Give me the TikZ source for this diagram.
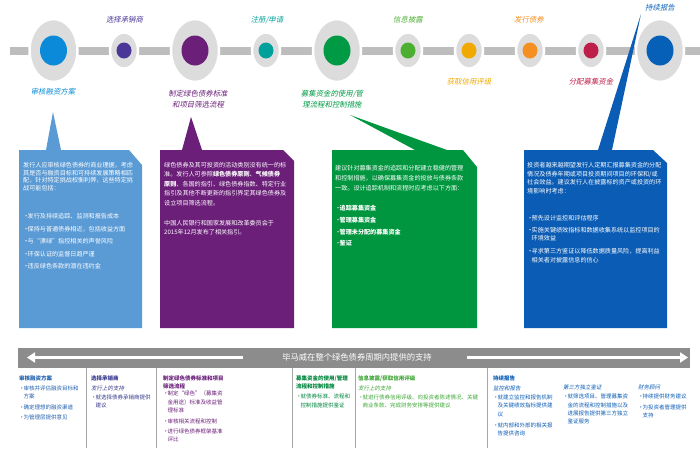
\documentclass[tikz,border=0pt]{standalone}
\usepackage{fontspec}
\setmainfont{Noto Sans CJK SC}
\newfontfamily\cjkslant{Noto Sans CJK SC}[FakeSlant=0.2]
\usetikzlibrary{arrows.meta}

% colours of the ten stages
\definecolor{ringgray}{HTML}{DCDCDC}
\definecolor{bargray}{HTML}{BDBDBD}
\definecolor{bandgray}{HTML}{8C8C8C}
\definecolor{sepgray}{HTML}{A6A6A6}
\definecolor{stBlue}{HTML}{0A8AD8}
\definecolor{stIndigo}{HTML}{4B3797}
\definecolor{stPurple}{HTML}{6B1F79}
\definecolor{stTeal}{HTML}{00A19B}
\definecolor{stGreen}{HTML}{009A44}
\definecolor{stLime}{HTML}{4CAF32}
\definecolor{stGold}{HTML}{EFA900}
\definecolor{stOrange}{HTML}{F58F21}
\definecolor{stCrimson}{HTML}{BD1E4A}
\definecolor{stNavy}{HTML}{0760B8}
\definecolor{boxBlue}{HTML}{5B9BD5}
\definecolor{boxGreen}{HTML}{00963F}
\definecolor{boxNavy}{HTML}{0B5CB4}
\definecolor{colBlue}{HTML}{1F5FAE}
\definecolor{colIndigo}{HTML}{35378C}
\definecolor{colGreen}{HTML}{00843D}
\definecolor{colLime}{HTML}{3DA535}

% bullet and hanging indent for the small texts
\newcommand{\bitem}{\makebox[4.5pt][l]{•}}
\newcommand{\bcont}{\hspace*{4.5pt}}
\newcommand{\subhead}[1]{{\cjkslant #1}}

\begin{document}
\begin{tikzpicture}[x=1pt, y=-1pt, line join=round,
    ring/.style={fill=ringgray, draw=white, line width=2.5pt},
    toplabel/.style={font=\cjkslant\fontsize{7.4}{12}\selectfont, align=center, inner sep=0pt},
    boxtext/.style={text=white, anchor=north west, align=left, inner sep=0pt},
    coltext/.style={anchor=north west, align=left, inner sep=0pt, font=\fontsize{5.5}{8.2}\selectfont},
    colsep/.style={draw=sepgray, line width=0.7pt},
    bandarrow/.style={draw=white, line width=2.8pt, -{Triangle[width=10pt, length=8pt]}}]
        \useasboundingbox (0,0) rectangle (700,450);

        % ---------------------------------------------------
        % 上方时间线：灰色横条与十个圆点
        % ---------------------------------------------------
        \def\bigrx{24}
        \def\bigry{31.5}
        \def\smallrx{14}
        \def\smallry{18}

        \coordinate (s1) at (53.5,50.5);
        \coordinate (s2) at (124,50.5);
        \coordinate (s3) at (195,50.5);
        \coordinate (s4) at (266,50.5);
        \coordinate (s5) at (337,50.5);
        \coordinate (s6) at (408,50.5);
        \coordinate (s7) at (469,50.5);
        \coordinate (s8) at (530,50.5);
        \coordinate (s9) at (591,50.5);
        \coordinate (s10) at (660,50.5);

        \fill[bargray] (10,46.5) rectangle (700,54.5);

        % 外圈（白边把横条断开）
        \filldraw[ring] (s1) ellipse [x radius=\bigrx, y radius=\bigry];
        \filldraw[ring] (s2) ellipse [x radius=\smallrx, y radius=\smallry];
        \filldraw[ring] (s3) ellipse [x radius=\bigrx, y radius=\bigry];
        \filldraw[ring] (s4) ellipse [x radius=\smallrx, y radius=\smallry];
        \filldraw[ring] (s5) ellipse [x radius=\bigrx, y radius=\bigry];
        \filldraw[ring] (s6) ellipse [x radius=\smallrx, y radius=\smallry];
        \filldraw[ring] (s7) ellipse [x radius=\smallrx, y radius=\smallry];
        \filldraw[ring] (s8) ellipse [x radius=\smallrx, y radius=\smallry];
        \filldraw[ring] (s9) ellipse [x radius=\smallrx, y radius=\smallry];
        \filldraw[ring] (s10) ellipse [x radius=\bigrx, y radius=\bigry];

        % 内圆
        \fill[stBlue] (s1) ellipse [x radius=13.5, y radius=15];
        \fill[stIndigo] (s2) ellipse [x radius=7.5, y radius=8];
        \fill[stPurple] (s3) ellipse [x radius=13.5, y radius=15];
        \fill[stTeal] (s4) ellipse [x radius=7.5, y radius=8];
        \fill[stGreen] (s5) ellipse [x radius=13.5, y radius=15];
        \fill[stLime] (s6) ellipse [x radius=7.5, y radius=8];
        \fill[stGold] (s7) ellipse [x radius=7.5, y radius=8];
        \fill[stOrange] (s8) ellipse [x radius=7.5, y radius=8];
        \fill[stCrimson] (s9) ellipse [x radius=7.5, y radius=8];
        \fill[stNavy] (s10) ellipse [x radius=13.5, y radius=15];

        % 阶段名称
        \node[toplabel, text=stBlue] (l1) at (53,92) {审核融资方案};
        \node[toplabel, text=stIndigo] (l2) at (124.5,20) {选择承销商};
        \node[toplabel, text=stPurple, font=\cjkslant\fontsize{7.4}{11.5}\selectfont] (l3) at (198,99) {制定绿色债券标准\\和项目筛选流程};
        \node[toplabel, text=stTeal] (l4) at (267,20) {注册/申请};
        \node[toplabel, text=stGreen, font=\cjkslant\fontsize{7.4}{11.5}\selectfont] (l5) at (332,99) {募集资金的使用/管\\理流程和控制措施};
        \node[toplabel, text=stLime] (l6) at (408,20) {信息披露};
        \node[toplabel, text=stGold] (l7) at (469,82) {获取信用评级};
        \node[toplabel, text=stOrange] (l8) at (529,20) {发行债券};
        \node[toplabel, text=stCrimson] (l9) at (591,82) {分配募集资金};
        \node[toplabel, text=stNavy] (l10) at (660,8) {持续报告};

        % ---------------------------------------------------
        % 四个说明框（带指针，右上角切角）
        % ---------------------------------------------------
        \fill[boxBlue] (19,150) -- (46,150) -- (53,112) -- (61,150) -- (129,150)
            -- (142,165) -- (142,328) -- (19,328) -- cycle;
        \fill[stPurple] (160,150) -- (182,150) -- (191,117) -- (202,150) -- (283,150)
            -- (294,161) -- (294,328) -- (160,328) -- cycle;
        \fill[boxGreen] (332,150) -- (415,150) -- (350,115) -- (447,150) -- (463,150)
            -- (477,167) -- (477,328) -- (332,328) -- cycle;
        \fill[boxNavy] (524,150) -- (598,150) -- (641,14) -- (612,150) -- (653,150)
            -- (667,163) -- (667,328) -- (524,328) -- cycle;

        \node[boxtext, font=\fontsize{6.1}{7.8}\selectfont] (t1) at (23,162) {%
            发行人应审核绿色债券的商业理据，考虑\\
            其是否与融资目标和可持续发展策略相匹\\
            配，针对特定挑战权衡利弊，这些特定挑\\
            战可能包括：\\[20pt]
            \bitem 发行及持续追踪、监测和报告成本\\[4.7pt]
            \bitem 保持与普通债券相近，包括收益方面\\[4.7pt]
            \bitem 与“漂绿”指控相关的声誉风险\\[4.7pt]
            \bitem 环保认证的监督日趋严谨\\[4.7pt]
            \bitem 违反绿色条款的潜在违约金};

        \node[boxtext, font=\fontsize{6.1}{9.5}\selectfont] (t2) at (164,162) {%
            绿色债券及其可投资的活动类别没有统一的标\\
            准。发行人可参照{\bfseries 绿色债券原则}、{\bfseries 气候债券}\\
            {\bfseries 原则}、各国的指引、绿色债券指数、特定行业\\
            指引及其他不断更新的指引界定其绿色债券及\\
            设立项目筛选流程。\\[10.5pt]
            中国人民银行和国家发展和改革委员会于\\
            2015年12月发布了相关指引。};

        \node[boxtext, font=\fontsize{6.1}{10}\selectfont] (t3) at (335,165.3) {%
            建议针对募集资金的追踪和分配建立稳健的管理\\
            和控制措施，以确保募集资金的投放与债券条款\\
            一致。设计追踪机制和流程时应考虑以下方面：\\[10pt]
            \bitem {\bfseries 追踪募集资金}\\[1.7pt]
            \bitem {\bfseries 管理募集资金}\\[1.7pt]
            \bitem {\bfseries 管理未分配的募集资金}\\[1.7pt]
            \bitem {\bfseries 鉴证}};

        \node[boxtext, font=\fontsize{6.1}{8.7}\selectfont] (t4) at (527,162) {%
            投资者越来越期望发行人定期汇报募集资金的分配\\
            情况及债券年期或项目投资期间项目的环保和/或\\
            社会效益。建议发行人在披露标的资产或投资的环\\
            境影响时考虑：\\[18pt]
            \bitem 预先设计监控和评估程序\\[3.3pt]
            \bitem 实施关键绩效指标和数据收集系统以监控项目的\\
            \bcont 环境效益\\[4.3pt]
            \bitem 寻求第三方鉴证以降低数据质量风险，提高利益\\
            \bcont 相关者对披露信息的信心};

        % ---------------------------------------------------
        % 下方灰色横带与双向箭头
        % ---------------------------------------------------
        \fill[bandgray] (18,348) rectangle (690,368);
        \node[text=white, font=\fontsize{8.3}{10}\selectfont, inner sep=0pt] (band) at (357,357.5)
            {毕马威在整个绿色债券周期内提供的支持};
        \coordinate (leftend) at (27,357.5);
        \coordinate (rightend) at (688,357.5);
        \draw[bandarrow] ([xshift=-39pt]band.west) -- (leftend);
        \draw[bandarrow] ([xshift=35pt]band.east) -- (rightend);

        % 分栏竖线
        \draw[colsep] (86,368) -- (86,448);
        \draw[colsep] (156,368) -- (156,448);
        \draw[colsep] (292,368) -- (292,448);
        \draw[colsep] (355,368) -- (355,448);
        \draw[colsep] (487,368) -- (487,448);

        % 各栏文字
        \node[coltext, text=colBlue] (c1) at (19,375.5) {%
            {\bfseries 审核融资方案}\\[1.8pt]
            \bitem 审核并评估融资目标和\\
            \bcont 方案\\[2.8pt]
            \bitem 确定理想的融资渠道\\[2pt]
            \bitem 为管理层提供意见};

        \node[coltext, text=colIndigo] (c2) at (91,375.5) {%
            {\bfseries 选择承销商}\\[1.8pt]
            \subhead{发行上的支持}\\[1pt]
            \bitem 就选择债券承销商提供\\
            \bcont 建议};

        \node[coltext, text=stPurple] (c3) at (163,375.5) {%
            {\bfseries 制定绿色债券标准和项目}\\
            {\bfseries 筛选流程}\\[-1pt]
            \bitem 制定“绿色”（募集资\\
            \bcont 金用途）标准及收益管\\
            \bcont 理标准\\[3.5pt]
            \bitem 审核相关流程和控制\\[1pt]
            \bitem 进行绿色债券框架基准\\
            \bcont 评比};

        \node[coltext, text=colGreen] (c4) at (296,375.5) {%
            {\bfseries 募集资金的使用/管理}\\
            {\bfseries 流程和控制措施}\\[2pt]
            \bitem 就债券标准、流程和\\
            \bcont 控制措施提供鉴证};

        \node[coltext, text=colLime] (c5) at (358,375.5) {%
            {\bfseries 信息披露/获取信用评级}\\[1.8pt]
            \subhead{发行上的支持}\\[1pt]
            \bitem 就进行债券信用评级、向投资者陈述情况、关键\\
            \bcont 商业条款、完成财务安排等提供建议};

        \node[coltext, text=boxNavy] (c6) at (493,375.5) {%
            {\bfseries 持续报告}\\[1.8pt]
            \subhead{监控和报告}\\[1pt]
            \bitem 就建立监控和报告机制\\
            \bcont 及关键绩效指标提供建\\
            \bcont 议\\[3pt]
            \bitem 就内部和外部的相关报\\
            \bcont 告提供咨询};

        \node[coltext, text=boxNavy] (c7) at (563,384.3) {%
            \subhead{第三方独立鉴证}\\[1.5pt]
            \bitem 就筛选项目、管理募集资\\
            \bcont 金的流程和控制措施以及\\
            \bcont 进展报告提供第三方独立\\
            \bcont 鉴证服务};

        \node[coltext, text=boxNavy] (c8) at (638,384.3) {%
            \subhead{财务顾问}\\[1.5pt]
            \bitem 持续提供财务建议\\[2pt]
            \bitem 为投资者管理提供\\
            \bcont 支持};

    \end{tikzpicture}
\end{document}
